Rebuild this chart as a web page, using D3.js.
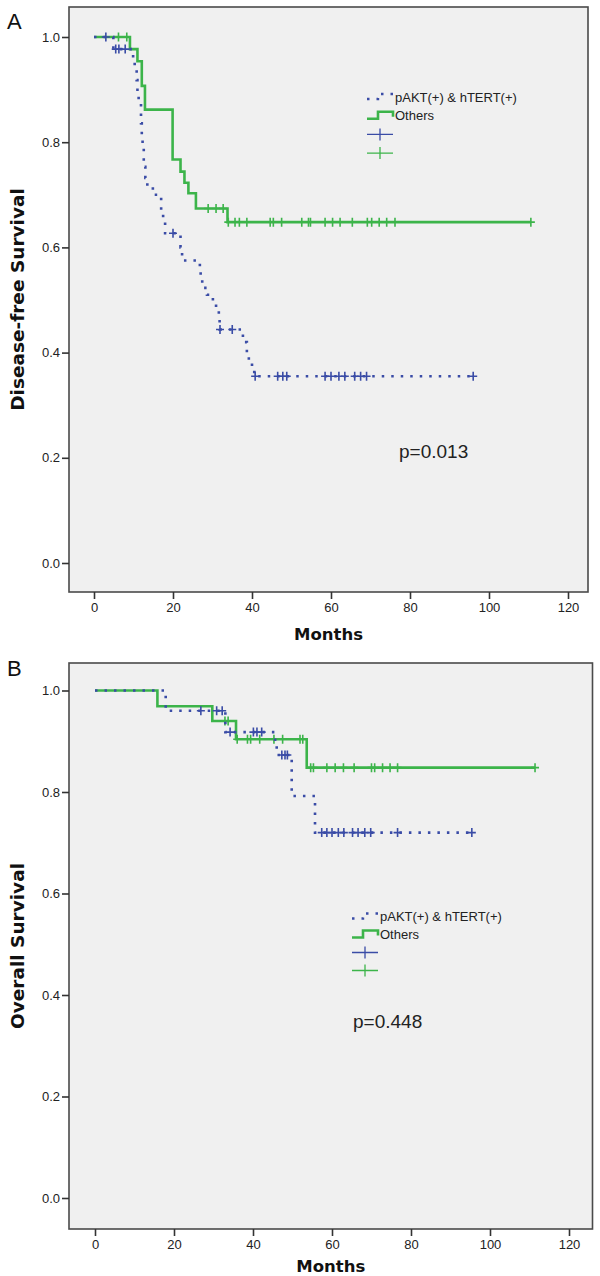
<!DOCTYPE html>
<html><head><meta charset="utf-8">
<script src="https://cdn.jsdelivr.net/npm/d3@7"></script>
<style>
html,body{margin:0;padding:0;background:#fff;}
svg{display:block;}
</style></head>
<body>
<svg id="chart" width="600" height="1276"></svg>
<script>
// ---------- data ----------
const monthTicks = [0, 20, 40, 60, 80, 100, 120];
const survTicks = [0.0, 0.2, 0.4, 0.6, 0.8, 1.0];
const groupNames = ["pAKT(+) & hTERT(+)", "Others"];

// Panel A: disease-free survival, steps [time, survival after event]
const dfsBlueSteps = [[0,1],[4.9,0.977],[9.9,0.960],[10.3,0.937],[10.8,0.918],[11.0,0.895],[11.3,0.876],[11.9,0.836],[12.1,0.814],[12.3,0.791],[12.6,0.753],[13.0,0.732],[13.5,0.715],[14.9,0.700],[17.0,0.671],[17.5,0.650],[18.0,0.627],[21.9,0.600],[22.3,0.575],[26.8,0.555],[27.0,0.538],[27.4,0.523],[28.6,0.510],[30.1,0.496],[30.9,0.479],[31.6,0.464],[31.8,0.444],[37.7,0.420],[38.7,0.400],[39.2,0.384],[40.0,0.363],[40.6,0.355]];
const dfsBlueEnd = 96;
const dfsBlueCensor = [3.0,5.5,6.3,7.9,20.0,31.9,35.0,40.8,46.5,47.8,48.8,58.5,60.0,62.0,63.5,66.0,67.5,69.0,96];
const dfsGreenSteps = [[0,1],[9.1,0.977],[11.0,0.954],[12.1,0.907],[12.9,0.862],[19.9,0.767],[21.9,0.744],[22.9,0.723],[23.9,0.703],[25.8,0.674],[33.8,0.648]];
const dfsGreenEnd = 110.6;
const dfsGreenCensor = [6.2,8.3,28.9,30.9,32.7,34.0,35.7,36.8,38.7,44.6,45.4,47.5,52.6,54.3,54.8,58.5,60.4,62.3,65.4,69.2,70.3,72.2,74.1,76.2,110.6];
const dfsP = "p=0.013";

// Panel B: overall survival
const osBlueSteps = [[0,1],[17.9,0.960],[33.0,0.918],[45.6,0.896],[46.0,0.873],[49.8,0.792],[55.7,0.720]];
const osBlueEnd = 95.4;
const osBlueCensor = [26.8,30.8,32.2,34.2,40.1,41.0,42.2,47.3,48.1,48.7,57.4,58.7,60.0,61.6,63.0,65.2,66.6,68.3,69.8,76.6,95.4];
const osGreenSteps = [[0,1],[15.8,0.969],[29.7,0.940],[35.7,0.904],[53.6,0.848]];
const osGreenEnd = 111.4;
const osGreenCensor = [32.9,33.7,36.0,38.6,39.4,41.7,45.3,47.5,51.9,52.6,54.6,55.3,58.7,60.8,62.9,65.6,70.0,70.8,72.8,74.7,76.6,111.4];
const osP = "p=0.448";

// ---------- styles ----------
const BLUE = "#3a4ca6", GREEN = "#3cb44a";
const svg = d3.select("#chart");

function survAt(steps, t){
  let s = steps[0][1];
  for (const [ts, v] of steps) if (ts <= t) s = v;
  return s;
}

function panel(cfg){
  const g = svg.append("g");
  const x = d3.scaleLinear().domain([0,120]).range([cfg.x0, cfg.x120]);
  const y = d3.scaleLinear().domain([0,1]).range([cfg.y0, cfg.y1]);

  g.append("rect").attr("x", cfg.left).attr("y", cfg.top)
    .attr("width", cfg.right - cfg.left).attr("height", cfg.bottom - cfg.top)
    .attr("fill", "#f0f0f0").attr("stroke", "#4a4a4a").attr("stroke-width", 1.6);

  // y axis
  const ya = d3.axisLeft(y).tickValues(survTicks).tickFormat(d3.format(".1f")).tickSize(7).tickPadding(2);
  const yg = g.append("g").attr("transform", `translate(${cfg.left},0)`).call(ya);
  yg.select(".domain").remove();
  yg.selectAll(".tick line").attr("stroke", "#333").attr("stroke-width", 1.6);
  yg.selectAll(".tick text").attr("font-family", "Liberation Sans, Arial, sans-serif").attr("font-size", 13).attr("fill", "#222");

  // x axis
  const xa = d3.axisBottom(x).tickValues(monthTicks).tickSize(7).tickPadding(4);
  const xg = g.append("g").attr("transform", `translate(0,${cfg.bottom})`).call(xa);
  xg.select(".domain").remove();
  xg.selectAll(".tick line").attr("stroke", "#333").attr("stroke-width", 1.6);
  xg.selectAll(".tick text").attr("font-family", "Liberation Sans, Arial, sans-serif").attr("font-size", 13).attr("fill", "#222");

  // titles
  g.append("text").attr("x", (cfg.left + cfg.right)/2).attr("y", cfg.monthsY)
    .attr("text-anchor", "middle").attr("font-family", "DejaVu Sans, sans-serif")
    .attr("font-weight", "bold").attr("font-size", 16.5).attr("fill", "#111").text("Months");
  g.append("text").attr("transform", `translate(${cfg.ytitleX},${(cfg.top + cfg.bottom)/2}) rotate(-90)`)
    .attr("text-anchor", "middle").attr("font-family", "DejaVu Sans, sans-serif")
    .attr("font-weight", "bold").attr("font-size", 18.5).attr("fill", "#111").text(cfg.ytitle);
  g.append("text").attr("x", 7).attr("y", cfg.letterY).attr("font-family", "Liberation Sans, Arial, sans-serif")
    .attr("font-size", 22).attr("fill", "#111").text(cfg.letter);

  const line = d3.line().x(d => x(d[0])).y(d => y(d[1])).curve(d3.curveStepAfter);

  function curve(steps, end, censor, color, dotted){
    const pts = steps.concat([[end, steps[steps.length-1][1]]]);
    const p = g.append("path").attr("d", line(pts)).attr("fill", "none")
      .attr("stroke", color).attr("stroke-width", 2.6);
    if (dotted) p.attr("stroke-dasharray", "2.5,7");
    g.selectAll(null).data(censor).enter().append("path")
      .attr("d", t => {
        const cx = x(t), cy = y(survAt(steps, t));
        return `M${cx-4},${cy}H${cx+4}M${cx},${cy-4.5}V${cy+4.5}`;
      })
      .attr("stroke", color).attr("stroke-width", 1.6).attr("fill", "none");
  }
  curve(cfg.green[0], cfg.green[1], cfg.green[2], GREEN, false);
  curve(cfg.blue[0], cfg.blue[1], cfg.blue[2], BLUE, true);

  // legend
  const lx = cfg.legX, ly = cfg.legY, rs = cfg.legRow;
  g.append("path").attr("d", `M${lx},${ly+2}H${lx+11}V${ly-3}H${lx+26}V${ly+2}`)
    .attr("fill", "none").attr("stroke", BLUE).attr("stroke-width", 2.4).attr("stroke-dasharray", "2.5,7");
  g.append("path").attr("d", `M${lx},${ly+rs+3}H${lx+11}V${ly+rs-4}H${lx+26}V${ly+rs+1}`)
    .attr("fill", "none").attr("stroke", GREEN).attr("stroke-width", 2.6);
  [[BLUE, 2], [GREEN, 3]].forEach(([c, i]) => {
    const cy = ly + rs*i;
    g.append("path").attr("d", `M${lx},${cy}H${lx+26}M${lx+13},${cy-6}V${cy+6}`)
      .attr("stroke", c).attr("stroke-width", 1.3).attr("fill", "none");
  });
  groupNames.forEach((n, i) => {
    g.append("text").attr("x", lx + 28).attr("y", ly + rs*i + 4.5)
      .attr("font-family", "Liberation Sans, Arial, sans-serif").attr("font-size", 13)
      .attr("fill", "#222").text(n);
  });
  g.append("text").attr("x", cfg.pX).attr("y", cfg.pY).attr("font-family", "Liberation Sans, Arial, sans-serif")
    .attr("font-size", 19).attr("fill", "#222").text(cfg.p);
}

panel({left:69, right:588, top:7, bottom:592, x0:94, x120:568, y0:563, y1:37,
  monthsY:640, ytitleX:24, ytitle:"Disease-free Survival", letter:"A", letterY:29,
  green:[dfsGreenSteps, dfsGreenEnd, dfsGreenCensor], blue:[dfsBlueSteps, dfsBlueEnd, dfsBlueCensor],
  legX:367, legY:97, legRow:18.7, p:dfsP, pX:399, pY:458});

panel({left:69, right:592.5, top:663, bottom:1229, x0:95, x120:569, y0:1198, y1:690.5,
  monthsY:1272, ytitleX:24, ytitle:"Overall Survival", letter:"B", letterY:676,
  green:[osGreenSteps, osGreenEnd, osGreenCensor], blue:[osBlueSteps, osBlueEnd, osBlueCensor],
  legX:352, legY:916.5, legRow:18, p:osP, pX:353, pY:1028});
</script>
</body></html>
